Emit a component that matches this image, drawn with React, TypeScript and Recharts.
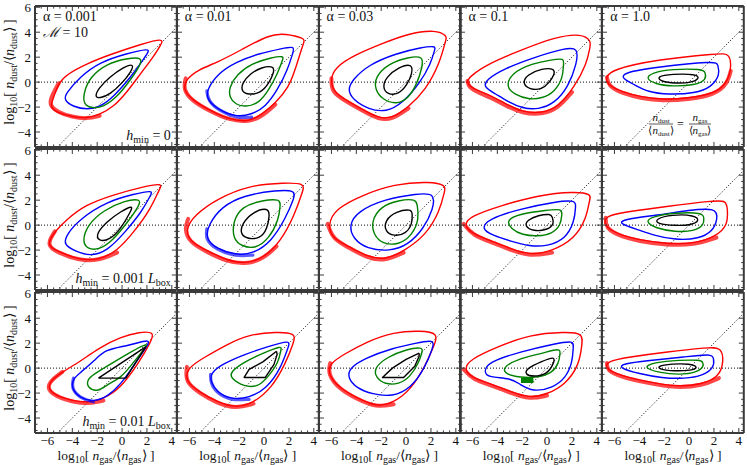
import React from 'react';
import { ScatterChart, Scatter, XAxis, YAxis, ReferenceLine } from 'recharts';

type Pt = [number, number];

// ---------- axis / tick data ----------
const xDomain: [number, number] = [-7, 4.4];
const yDomain: [number, number] = [-5.2, 6.1];
const xTicks = [-7, -6.5, -6, -5.5, -5, -4.5, -4, -3.5, -3, -2.5, -2, -1.5, -1, -0.5, 0, 0.5, 1, 1.5, 2, 2.5, 3, 3.5, 4];
const yTicks = [-5, -4.5, -4, -3.5, -3, -2.5, -2, -1.5, -1, -0.5, 0, 0.5, 1, 1.5, 2, 2.5, 3, 3.5, 4, 4.5, 5, 5.5, 6];
const alphaLabels = ['0.001', '0.01', '0.03', '0.1', '1.0'];

// ---------- row 1 (h_min = 0) ----------
const r1c1_red: Pt[] = [[3.3,3.5],[1.7,3.1],[-1.0,2.2],[-2.8,1.5],[-4.5,0.6],[-5.1,-0.1],[-5.5,-1.2],[-5.8,-2.0],[-5.3,-2.4],[-4.0,-2.8],[-2.8,-2.9],[-1.8,-2.6],[-0.7,-2.0],[0.4,-0.8],[1.5,0.7],[2.5,2.0],[3.2,3.1]];
const r1c1_blue: Pt[] = [[2.2,2.7],[0.4,2.3],[-1.8,1.6],[-3.4,0.4],[-4.5,-0.9],[-4.7,-1.4],[-3.9,-2.0],[-2.8,-2.2],[-1.8,-2.0],[-0.7,-1.2],[0.7,0.4],[1.7,1.8],[2.1,2.4]];
const r1c1_green: Pt[] = [[1.6,2.0],[0.4,1.9],[-1.2,1.5],[-2.6,0.4],[-3.1,-0.9],[-3.1,-1.8],[-2.4,-2.1],[-1.5,-2.0],[-0.4,-1.2],[0.7,0.2],[1.5,1.4]];
const r1c1_black: Pt[] = [[1.0,1.5],[0.1,1.2],[-1.0,0.4],[-1.9,-0.5],[-2.2,-1.2],[-1.8,-1.3],[-1.0,-1.0],[0.0,-0.1],[0.7,0.8]];
const r1c1_band: Pt[] = [[-5.1,-0.1],[-5.6,-1.0],[-5.9,-1.8],[-5.2,-2.4],[-4.0,-2.8],[-2.8,-2.95],[-1.8,-2.7]];

const r1c2_red: Pt[] = [[3.3,3.5],[1.7,3.9],[0.4,3.8],[-1.8,2.6],[-3.7,1.6],[-5.3,1.0],[-6.3,0.2],[-6.5,-0.6],[-5.8,-1.4],[-4.5,-2.2],[-2.8,-3.0],[-1.2,-3.2],[-0.2,-2.6],[0.9,-1.7],[2.0,-0.4],[2.5,1.0],[2.9,2.3],[3.2,3.2]];
const r1c2_blue: Pt[] = [[2.5,2.9],[1.5,2.7],[-0.4,2.3],[-2.3,1.6],[-3.7,0.7],[-4.6,-0.6],[-4.6,-1.4],[-3.7,-2.2],[-2.3,-2.8],[-1.0,-2.6],[0.1,-2.0],[1.1,-0.6],[1.9,1.0],[2.3,2.3]];
const r1c2_green: Pt[] = [[1.6,2.1],[0.7,2.0],[-1.0,1.5],[-2.2,0.6],[-2.8,-0.4],[-2.8,-1.2],[-2.3,-1.8],[-1.5,-2.0],[-0.4,-1.7],[0.4,-0.6],[1.1,0.7],[1.5,1.8]];
const r1c2_black: Pt[] = [[0.8,1.3],[-0.2,1.2],[-1.1,0.7],[-1.8,-0.1],[-1.8,-0.8],[-1.2,-1.0],[-0.3,-0.9],[0.4,-0.1],[0.8,0.8]];
const r1c2_band: Pt[] = [[-6.3,0.3],[-6.5,-0.6],[-5.8,-1.5],[-4.4,-2.3],[-2.8,-3.05],[-1.2,-3.2],[-0.1,-2.7],[0.9,-1.8]];
const r1c2_bband: Pt[] = [[-4.6,-0.7],[-4.5,-1.5],[-3.6,-2.3],[-2.2,-2.9],[-1.0,-2.8]];

const r1c3_red: Pt[] = [[3.3,3.7],[2.4,4.2],[0.2,3.9],[-1.9,3.1],[-4.1,2.2],[-5.7,1.2],[-6.1,0.2],[-5.8,-0.8],[-4.9,-1.4],[-3.5,-2.2],[-2.2,-2.9],[-1.1,-2.9],[0.2,-2.0],[1.6,-0.6],[2.7,1.5],[3.2,3.4]];
const r1c3_blue: Pt[] = [[2.4,2.9],[1.3,2.8],[-0.8,2.3],[-3.0,1.4],[-4.3,0.2],[-4.7,-0.6],[-4.3,-1.4],[-3.0,-2.2],[-1.6,-2.4],[-0.3,-1.7],[1.1,-0.1],[2.0,1.5],[2.3,2.6]];
const r1c3_green: Pt[] = [[1.4,2.1],[0.2,2.0],[-1.4,1.5],[-2.5,0.4],[-2.5,-0.6],[-1.9,-1.4],[-0.8,-1.8],[0.2,-1.3],[0.9,-0.1],[1.3,1.2]];
const r1c3_black: Pt[] = [[0.5,1.5],[-0.6,1.2],[-1.6,0.4],[-1.9,-0.4],[-1.5,-1.0],[-0.6,-1.0],[0.1,-0.2],[0.5,0.7]];
const r1c3_band: Pt[] = [[-6.0,0.3],[-6.0,-0.8],[-4.9,-1.5],[-3.5,-2.3],[-2.2,-3.0],[-1.1,-3.0],[0.2,-2.1]];

const r1c4_red: Pt[] = [[3.55,3.3],[2.8,3.9],[0.6,3.6],[-2.0,2.6],[-4.7,1.5],[-6.3,0.4],[-6.5,-0.1],[-5.8,-0.6],[-4.7,-1.0],[-3.4,-1.7],[-2.0,-2.4],[-0.4,-2.5],[0.9,-2.0],[2.2,-0.4],[3.2,1.5],[3.45,2.8]];
const r1c4_blue: Pt[] = [[2.5,2.8],[1.4,2.7],[-1.0,2.0],[-3.4,1.1],[-4.9,0.2],[-5.1,-0.4],[-4.2,-0.9],[-3.1,-1.6],[-2.0,-2.1],[-0.7,-2.2],[0.6,-1.7],[1.7,-0.4],[2.4,1.5]];
const r1c4_green: Pt[] = [[1.4,1.9],[0.4,1.8],[-1.2,1.5],[-2.9,0.7],[-3.3,-0.4],[-2.6,-1.0],[-1.5,-1.4],[-0.4,-1.3],[0.6,-0.8],[1.3,0.4],[1.3,1.5]];
const r1c4_black: Pt[] = [[0.6,1.1],[-0.4,1.1],[-1.6,0.6],[-2.0,-0.1],[-1.4,-0.6],[-0.4,-0.6],[0.2,0.0],[0.6,0.6]];
const r1c4_band: Pt[] = [[-6.4,0.1],[-6.3,-0.4],[-5.6,-0.8],[-4.6,-1.2],[-3.3,-1.9],[-2.0,-2.5],[-0.4,-2.6],[0.9,-2.1],[2.0,-0.8]];

const r1c5_red: Pt[] = [[3.3,2.3],[2.4,2.3],[-2.7,1.8],[-6.2,1.0],[-6.7,0.4],[-6.6,-0.2],[-5.4,-0.8],[-3.8,-1.2],[-2.2,-1.4],[-0.1,-1.3],[2.1,-0.9],[3.0,-0.1],[3.4,1.0]];
const r1c5_blue: Pt[] = [[2.2,1.7],[-2.7,1.2],[-5.3,0.75],[-5.4,0.3],[-4.4,-0.2],[-3.3,-0.8],[-1.7,-1.0],[0.5,-0.9],[1.8,-0.4],[2.5,0.6],[2.3,1.4]];
const r1c5_green: Pt[] = [[1.1,1.05],[-1.4,1.05],[-3.0,0.75],[-3.5,0.3],[-2.7,-0.15],[-1.4,-0.35],[0.5,-0.25],[1.4,0.2],[1.3,0.8]];
const r1c5_black: Pt[] = [[0.6,0.65],[-1.4,0.65],[-2.6,0.45],[-2.3,0.05],[-1.1,-0.1],[0.2,-0.05],[0.85,0.3]];
const r1c5_band: Pt[] = [[-6.6,0.4],[-6.5,-0.3],[-5.4,-0.9],[-3.8,-1.3],[-2.2,-1.5],[-0.1,-1.4],[2.1,-1.0],[3.1,-0.1],[3.35,0.9]];

// ---------- row 2 (h_min = 0.001 L_box) ----------
const r2c1_red: Pt[] = [[3.3,3.35],[1.75,3.1],[-0.8,2.4],[-3.0,1.6],[-4.5,0.4],[-5.4,-0.5],[-6.1,-1.6],[-5.2,-2.1],[-3.4,-2.8],[-1.9,-2.8],[-0.4,-2.1],[1.0,-0.5],[2.3,1.3],[3.0,2.9]];
const r2c1_blue: Pt[] = [[2.5,2.8],[1.0,2.5],[-1.2,1.9],[-3.4,0.5],[-4.5,-0.8],[-4.7,-1.6],[-3.7,-2.1],[-2.6,-2.5],[-1.2,-2.1],[0.3,-0.5],[1.6,1.1],[2.3,2.4]];
const r2c1_green: Pt[] = [[1.5,2.1],[0.3,2.0],[-1.5,1.2],[-2.8,0.0],[-3.2,-1.3],[-2.8,-1.9],[-1.9,-2.0],[-0.8,-1.3],[0.5,0.3],[1.4,1.6]];
const r2c1_black: Pt[] = [[0.9,1.6],[-0.1,1.1],[-1.2,0.3],[-2.1,-0.7],[-1.9,-1.3],[-1.0,-1.2],[-0.1,-0.3],[0.7,1.1]];
const r2c1_band: Pt[] = [[-5.4,-0.5],[-6.1,-1.6],[-5.2,-2.2],[-3.4,-2.85],[-1.9,-2.85],[-0.4,-2.2]];

const r2c2_red: Pt[] = [[3.3,3.35],[1.7,3.4],[-1.2,3.2],[-3.8,2.1],[-5.6,0.8],[-6.3,-0.3],[-6.0,-1.3],[-4.5,-2.1],[-3.0,-2.8],[-1.6,-3.1],[-0.1,-2.7],[1.35,-1.3],[2.45,0.8],[3.1,2.7]];
const r2c2_blue: Pt[] = [[2.55,2.8],[1.0,2.8],[-1.6,2.4],[-3.4,1.5],[-4.5,0.0],[-4.7,-1.1],[-3.8,-1.9],[-2.3,-2.4],[-0.85,-2.3],[0.6,-1.3],[1.7,0.5],[2.4,2.1]];
const r2c2_green: Pt[] = [[1.3,2.1],[-0.1,2.0],[-1.8,1.5],[-2.5,0.3],[-2.5,-1.1],[-1.8,-1.7],[-0.7,-1.9],[0.4,-1.1],[1.2,0.5],[1.3,1.6]];
const r2c2_black: Pt[] = [[0.35,1.4],[-0.85,1.1],[-1.8,0.1],[-1.9,-0.7],[-1.4,-1.1],[-0.3,-1.1],[0.25,-0.3],[0.45,0.8]];
const r2c2_band: Pt[] = [[-6.1,0.5],[-6.4,-0.3],[-6.0,-1.4],[-4.5,-2.2],[-3.0,-2.9],[-1.6,-3.15],[-0.1,-2.75],[1.0,-1.7]];
const r2c2_bband: Pt[] = [[-4.6,-0.3],[-4.7,-1.2],[-3.8,-2.0],[-2.3,-2.5],[-0.9,-2.4]];

const r2c3_red: Pt[] = [[3.2,3.2],[2.0,3.5],[-1.0,3.3],[-3.5,2.4],[-5.7,1.3],[-6.3,0.0],[-5.9,-1.1],[-4.6,-1.7],[-3.2,-2.5],[-1.7,-2.8],[-0.2,-2.1],[1.6,-0.8],[2.7,1.1],[3.1,2.7]];
const r2c3_blue: Pt[] = [[2.3,2.6],[0.9,2.5],[-1.7,2.1],[-3.9,1.1],[-4.6,0.0],[-4.25,-1.1],[-3.15,-1.9],[-1.3,-2.1],[0.15,-1.6],[1.4,-0.3],[2.2,1.3]];
const r2c3_green: Pt[] = [[0.8,2.1],[-0.6,2.0],[-2.05,1.5],[-2.8,0.3],[-2.6,-0.8],[-1.9,-1.5],[-0.6,-1.6],[0.5,-0.8],[1.05,0.5],[0.9,1.6]];
const r2c3_black: Pt[] = [[0.45,1.3],[-0.8,1.1],[-1.7,0.4],[-1.7,-0.5],[-1.0,-0.9],[0.0,-0.7],[0.5,0.1],[0.5,0.9]];
const r2c3_band: Pt[] = [[-6.3,0.1],[-5.9,-1.1],[-4.6,-1.8],[-3.2,-2.6],[-1.7,-2.9],[-0.2,-2.2]];

const r2c4_red: Pt[] = [[3.6,2.5],[2.2,2.7],[-0.7,2.4],[-3.6,1.6],[-6.2,0.7],[-6.7,0.0],[-6.0,-0.7],[-4.4,-1.3],[-2.9,-1.9],[-1.4,-2.4],[0.4,-2.1],[2.2,-1.1],[3.15,0.5],[3.4,2.0]];
const r2c4_blue: Pt[] = [[2.3,2.0],[0.8,1.9],[-2.2,1.3],[-4.7,0.5],[-5.3,-0.3],[-4.4,-0.8],[-2.9,-1.3],[-1.4,-1.7],[0.0,-1.7],[1.5,-1.1],[2.2,0.3],[2.3,1.5]];
const r2c4_green: Pt[] = [[1.2,1.3],[0.0,1.2],[-2.2,0.9],[-3.3,0.4],[-2.9,-0.3],[-2.0,-0.8],[-0.7,-0.9],[0.4,-0.7],[1.1,0.0],[1.2,0.9]];
const r2c4_black: Pt[] = [[0.3,0.9],[-0.7,0.8],[-1.6,0.4],[-1.8,-0.1],[-1.1,-0.5],[0.0,-0.4],[0.6,0.1],[0.4,0.7]];
const r2c4_band: Pt[] = [[-6.7,0.1],[-6.0,-0.8],[-4.4,-1.4],[-2.9,-2.0],[-1.4,-2.5],[0.4,-2.2]];

const r2c5_red: Pt[] = [[3.0,2.0],[1.9,1.95],[-1.8,1.5],[-5.5,1.0],[-6.8,0.7],[-6.8,-0.1],[-5.8,-0.7],[-4.0,-1.2],[-1.8,-1.5],[0.4,-1.5],[2.2,-0.9],[3.1,0.0],[3.1,1.2]];
const r2c5_blue: Pt[] = [[2.2,1.4],[0.0,1.2],[-2.5,0.8],[-5.4,0.45],[-5.6,0.1],[-4.0,-0.4],[-2.9,-0.8],[-1.1,-1.2],[0.8,-1.1],[1.9,-0.5],[2.3,0.5]];
const r2c5_green: Pt[] = [[1.1,1.0],[-1.1,1.0],[-2.9,0.7],[-3.55,0.3],[-2.7,-0.25],[-1.1,-0.55],[0.4,-0.5],[1.2,0.0],[1.2,0.6]];
const r2c5_black: Pt[] = [[0.5,0.8],[-1.4,0.85],[-2.7,0.5],[-2.6,0.1],[-1.1,-0.05],[0.2,0.0],[0.85,0.35]];
const r2c5_band: Pt[] = [[-6.7,0.6],[-6.7,-0.2],[-5.8,-0.8],[-4.0,-1.3],[-1.8,-1.6],[0.4,-1.6],[2.2,-1.0]];

// ---------- row 3 (h_min = 0.01 L_box) ----------
const r3c1_red: Pt[] = [[2.65,2.9],[1.4,2.9],[-0.1,2.5],[-1.9,1.6],[-3.4,0.5],[-4.8,-0.3],[-5.9,-1.1],[-5.9,-1.9],[-4.5,-2.5],[-3.0,-2.8],[-1.5,-2.5],[-0.1,-1.6],[1.4,0.5],[2.3,2.1]];
const r3c1_blue: Pt[] = [[2.4,2.4],[0.6,1.8],[-1.4,1.5],[-2.2,0.6],[-3.4,-0.4],[-3.9,-0.8],[-4.1,-1.6],[-3.4,-2.4],[-2.3,-2.7],[-1.2,-2.3],[-0.1,-1.3],[1.0,0.3],[1.9,1.6]];
const r3c1_green: Pt[] = [[2.2,2.1],[0.7,1.3],[-0.8,0.4],[-2.3,-0.5],[-2.8,-0.9],[-2.8,-1.6],[-1.9,-1.9],[-1.2,-1.3],[-0.1,-0.8],[0.8,0.3],[1.75,1.5]];
const r3c1_black: Pt[] = [[-1.9,-0.8],[0.3,-0.8],[1.9,1.7]];
const r3c1_band: Pt[] = [[-4.8,-0.3],[-5.9,-1.1],[-6.0,-1.9],[-4.5,-2.6],[-3.0,-2.9],[-1.5,-2.6]];
const r3c1_bband: Pt[] = [[-3.9,-0.8],[-4.1,-1.6],[-3.4,-2.4],[-2.3,-2.7]];

const r3c2_red: Pt[] = [[2.55,2.8],[1.0,2.9],[-1.2,2.7],[-3.0,1.9],[-4.9,0.8],[-6.2,0.0],[-6.3,-1.1],[-5.2,-1.9],[-3.8,-2.7],[-2.3,-3.2],[-0.85,-2.8],[0.6,-1.6],[1.7,0.3],[2.4,2.1]];
const r3c2_blue: Pt[] = [[2.2,2.3],[0.25,1.7],[-1.6,1.1],[-3.4,0.3],[-4.3,-0.4],[-4.3,-1.1],[-3.8,-1.9],[-2.7,-2.5],[-1.2,-2.4],[0.25,-1.6],[1.35,0.0],[1.9,1.6]];
const r3c2_green: Pt[] = [[1.45,1.8],[-0.1,1.2],[-1.6,0.5],[-2.7,-0.3],[-2.7,-0.8],[-1.6,-1.5],[-0.5,-1.5],[0.25,-0.8],[1.2,0.5],[1.35,1.5]];
const r3c2_black: Pt[] = [[1.0,1.35],[-0.1,0.5],[-1.2,-0.1],[-1.6,-0.75],[0.1,-0.75],[0.8,0.3],[1.05,1.1]];
const r3c2_band: Pt[] = [[-6.2,0.1],[-6.35,-1.1],[-5.2,-2.0],[-3.8,-2.8],[-2.3,-3.25],[-0.85,-2.85]];
const r3c2_bband: Pt[] = [[-4.3,-0.5],[-4.3,-1.2],[-3.8,-2.0],[-2.7,-2.6],[-1.2,-2.5]];

const r3c3_red: Pt[] = [[2.6,2.8],[1.2,3.0],[-1.0,2.9],[-3.2,2.1],[-5.0,1.1],[-6.1,0.4],[-6.3,-0.5],[-5.35,-1.6],[-3.9,-2.4],[-2.4,-3.1],[-1.0,-2.8],[0.5,-1.6],[1.6,0.3],[2.3,1.9]];
const r3c3_blue: Pt[] = [[2.3,2.3],[0.8,2.0],[-1.1,1.6],[-3.3,0.8],[-4.55,0.0],[-4.7,-0.75],[-4.0,-1.6],[-2.7,-2.1],[-1.1,-2.3],[0.4,-1.6],[1.5,0.0],[2.15,1.6]];
const r3c3_green: Pt[] = [[1.35,1.7],[0.0,1.5],[-1.5,0.9],[-2.6,0.0],[-2.4,-0.8],[-1.7,-1.3],[-0.6,-1.3],[0.35,-0.7],[1.05,0.5],[1.3,1.3]];
const r3c3_black: Pt[] = [[1.05,1.2],[0.0,0.7],[-1.1,0.0],[-1.9,-0.75],[-0.2,-0.75],[0.7,0.15],[1.05,0.95]];
const r3c3_band: Pt[] = [[-6.1,0.4],[-6.3,-0.5],[-5.35,-1.7],[-3.9,-2.5],[-2.4,-3.15],[-1.0,-2.9]];

const r3c4_red: Pt[] = [[2.9,2.8],[1.5,2.9],[-1.4,2.7],[-4.0,1.7],[-6.2,0.7],[-6.7,-0.1],[-6.0,-0.8],[-4.4,-1.3],[-2.9,-1.9],[-1.4,-2.4],[0.0,-2.1],[1.5,-1.3],[2.6,0.3],[2.8,1.9]];
const r3c4_blue: Pt[] = [[2.15,2.2],[0.8,2.0],[-2.2,1.3],[-4.7,0.5],[-5.1,-0.3],[-4.7,-0.75],[-2.9,-0.8],[-2.2,-1.3],[-1.1,-1.9],[0.4,-1.6],[1.5,-0.8],[2.05,0.5],[2.1,1.7]];
const r3c4_green: Pt[] = [[1.05,1.6],[-0.3,1.2],[-2.5,0.7],[-3.6,0.0],[-3.3,-0.5],[-2.2,-0.75],[-0.7,-0.75],[0.4,-0.4],[0.95,0.4],[1.05,1.2]];
const r3c4_black: Pt[] = [[0.7,1.0],[-0.5,0.5],[-1.6,0.0],[-1.8,-0.5],[-1.1,-0.7],[0.0,-0.5],[0.5,0.3]];
const r3c4_band: Pt[] = [[-6.7,-0.1],[-6.0,-0.9],[-4.4,-1.4],[-2.9,-2.0],[-1.4,-2.5],[0.0,-2.2]];
const r3c4_gblob: Pt[] = [[-2.1,-1.0],[-1.1,-1.0]];

const r3c5_red: Pt[] = [[2.6,1.7],[1.5,1.65],[-1.8,1.3],[-4.7,0.9],[-6.7,0.55],[-6.7,-0.1],[-5.5,-0.6],[-3.3,-1.1],[-1.1,-1.5],[1.1,-1.3],[2.4,-0.7],[2.8,0.5]];
const r3c5_blue: Pt[] = [[1.8,1.15],[-0.3,0.9],[-3.3,0.6],[-5.4,0.35],[-5.6,0.0],[-4.0,-0.45],[-2.2,-0.8],[-0.3,-0.85],[1.1,-0.6],[2.0,0.0],[2.0,0.8]];
const r3c5_green: Pt[] = [[0.9,0.65],[-0.7,0.65],[-2.9,0.45],[-3.7,0.05],[-2.5,-0.35],[-0.7,-0.55],[0.6,-0.35],[1.2,0.1],[1.1,0.5]];
const r3c5_black: Pt[] = [[0.1,0.35],[-1.4,0.35],[-2.6,0.15],[-2.3,-0.15],[-0.7,-0.25],[0.4,-0.15],[0.7,0.1]];
const r3c5_band: Pt[] = [[-6.6,0.4],[-6.6,-0.2],[-5.5,-0.7],[-3.3,-1.2],[-1.1,-1.6],[1.1,-1.4],[2.4,-0.8]];

// ---------- layout / style ----------
const COL_L = [35, 176.8, 318.6, 460.4, 602.2];
const ROW_T = [6, 149, 292];
const PW = 141.8;
const PH = 141;
const FRAME = '#3a3a3a';
const SERIF = '"Liberation Serif", "Times New Roman", Times, serif';
const RED = '#ff0000';
const BLUE = '#0000ff';
const GREEN = '#008000';

type PanelData = {
  red: Pt[]; blue: Pt[]; green: Pt[]; black: Pt[];
  band?: Pt[]; bband?: Pt[]; gblob?: Pt[]; sharpBlack?: boolean;
};

const panels: PanelData[][] = [
  [
    { red: r1c1_red, blue: r1c1_blue, green: r1c1_green, black: r1c1_black, band: r1c1_band },
    { red: r1c2_red, blue: r1c2_blue, green: r1c2_green, black: r1c2_black, band: r1c2_band, bband: r1c2_bband },
    { red: r1c3_red, blue: r1c3_blue, green: r1c3_green, black: r1c3_black, band: r1c3_band },
    { red: r1c4_red, blue: r1c4_blue, green: r1c4_green, black: r1c4_black, band: r1c4_band },
    { red: r1c5_red, blue: r1c5_blue, green: r1c5_green, black: r1c5_black, band: r1c5_band },
  ],
  [
    { red: r2c1_red, blue: r2c1_blue, green: r2c1_green, black: r2c1_black, band: r2c1_band },
    { red: r2c2_red, blue: r2c2_blue, green: r2c2_green, black: r2c2_black, band: r2c2_band, bband: r2c2_bband },
    { red: r2c3_red, blue: r2c3_blue, green: r2c3_green, black: r2c3_black, band: r2c3_band },
    { red: r2c4_red, blue: r2c4_blue, green: r2c4_green, black: r2c4_black, band: r2c4_band },
    { red: r2c5_red, blue: r2c5_blue, green: r2c5_green, black: r2c5_black, band: r2c5_band },
  ],
  [
    { red: r3c1_red, blue: r3c1_blue, green: r3c1_green, black: r3c1_black, band: r3c1_band, bband: r3c1_bband, sharpBlack: true },
    { red: r3c2_red, blue: r3c2_blue, green: r3c2_green, black: r3c2_black, band: r3c2_band, bband: r3c2_bband, sharpBlack: true },
    { red: r3c3_red, blue: r3c3_blue, green: r3c3_green, black: r3c3_black, band: r3c3_band, sharpBlack: true },
    { red: r3c4_red, blue: r3c4_blue, green: r3c4_green, black: r3c4_black, band: r3c4_band, gblob: r3c4_gblob },
    { red: r3c5_red, blue: r3c5_blue, green: r3c5_green, black: r3c5_black, band: r3c5_band },
  ],
];

const toObjs = (a: Pt[], close: boolean) => {
  const pts = a.map(([x, y]) => ({ x, y }));
  if (close && a.length > 2) pts.push({ x: a[0][0], y: a[0][1] });
  return pts;
};

const isMajor = (v: number) => Math.abs(v % 2) < 1e-9;
const fmt = (v: number) => (v < 0 ? '\u2212' + Math.abs(v) : String(v));
const NoShape = () => <g />;

const makeTick = (side: 'b' | 't' | 'l' | 'r', label: boolean) => (p: any) => {
  const { x, y, payload } = p;
  const v = payload.value as number;
  const len = isMajor(v) ? 5 : 2.6;
  let l: any;
  if (side === 'b') l = { x1: x, x2: x, y1: y, y2: y - len };
  else if (side === 't') l = { x1: x, x2: x, y1: y, y2: y + len };
  else if (side === 'l') l = { x1: x, x2: x + len, y1: y, y2: y };
  else l = { x1: x, x2: x - len, y1: y, y2: y };
  return (
    <g>
      <line {...l} stroke={FRAME} strokeWidth={1} />
      {label && isMajor(v) && side === 'b' && (
        <text x={x} y={y + 12} textAnchor="middle" fontSize={13} fontFamily={SERIF} fill="#111">{fmt(v)}</text>
      )}
      {label && isMajor(v) && side === 'l' && (
        <text x={x - 4} y={y + 4.5} textAnchor="end" fontSize={13} fontFamily={SERIF} fill="#111">{fmt(v)}</text>
      )}
    </g>
  );
};

function Panel({ r, c }: { r: number; c: number }) {
  const d = panels[r][c];
  const left = COL_L[c];
  const top = ROW_T[r];
  const mL = 39, mT = 9, mR = 9, mB = 29;
  const cw = PW + mL + mR + 2;
  const ch = PH + mT + mB + 2;
  const lineStyle = (stroke: string, w: number, extra: any = {}) => ({ stroke, strokeWidth: w, fill: 'none', strokeLinejoin: 'round', ...extra });
  return (
    <div style={{ position: 'absolute', left: left - 40, top: top - 10, width: cw, height: ch }}>
      <ScatterChart width={cw} height={ch} margin={{ top: mT, left: mL, right: mR, bottom: mB }}>
        <XAxis xAxisId="b" dataKey="x" type="number" domain={xDomain} ticks={xTicks} interval={0} allowDataOverflow
          height={1} tickSize={0} tickMargin={0} tickLine={false} axisLine={{ stroke: FRAME, strokeWidth: 2 }}
          tick={makeTick('b', r === 2)} />
        <XAxis xAxisId="t" dataKey="x" orientation="top" type="number" domain={xDomain} ticks={xTicks} interval={0} allowDataOverflow
          height={1} tickSize={0} tickMargin={0} tickLine={false} axisLine={{ stroke: FRAME, strokeWidth: 2 }}
          tick={makeTick('t', false)} />
        <YAxis yAxisId="l" dataKey="y" type="number" domain={yDomain} ticks={yTicks} interval={0} allowDataOverflow
          width={1} tickSize={0} tickMargin={0} tickLine={false} axisLine={{ stroke: FRAME, strokeWidth: 2 }}
          tick={makeTick('l', c === 0)} />
        <YAxis yAxisId="r" dataKey="y" orientation="right" type="number" domain={yDomain} ticks={yTicks} interval={0} allowDataOverflow
          width={1} tickSize={0} tickMargin={0} tickLine={false} axisLine={{ stroke: FRAME, strokeWidth: 2 }}
          tick={makeTick('r', false)} />
        <ReferenceLine xAxisId="b" yAxisId="l" y={0} stroke="#000" strokeWidth={1} strokeDasharray="1 2" />
        <ReferenceLine xAxisId="b" yAxisId="l" segment={[{ x: -5.2, y: -5.2 }, { x: 4.4, y: 4.4 }]} stroke="#000" strokeWidth={1} strokeDasharray="1 2" />
        <Scatter xAxisId="t" yAxisId="r" data={[]} fill="none" shape={NoShape} isAnimationActive={false} />
        {d.band && (
          <Scatter xAxisId="b" yAxisId="l" data={toObjs(d.band, false)} fill={RED} shape={NoShape} isAnimationActive={false}
            lineJointType="basis" line={lineStyle(RED, 4, { strokeOpacity: 0.72, strokeLinecap: 'round' })} />
        )}
        <Scatter xAxisId="b" yAxisId="l" data={toObjs(d.red, false)} fill={RED} shape={NoShape} isAnimationActive={false}
          lineJointType="basisClosed" line={lineStyle(RED, 1.4)} />
        {d.bband && (
          <Scatter xAxisId="b" yAxisId="l" data={toObjs(d.bband, false)} fill={BLUE} shape={NoShape} isAnimationActive={false}
            lineJointType="basis" line={lineStyle(BLUE, 3.2, { strokeOpacity: 0.65, strokeLinecap: 'round' })} />
        )}
        <Scatter xAxisId="b" yAxisId="l" data={toObjs(d.blue, false)} fill={BLUE} shape={NoShape} isAnimationActive={false}
          lineJointType="basisClosed" line={lineStyle(BLUE, 1.4)} />
        <Scatter xAxisId="b" yAxisId="l" data={toObjs(d.green, false)} fill={GREEN} shape={NoShape} isAnimationActive={false}
          lineJointType="basisClosed" line={lineStyle(GREEN, 1.4)} />
        {d.gblob && (
          <Scatter xAxisId="b" yAxisId="l" data={toObjs(d.gblob, false)} fill={GREEN} shape={NoShape} isAnimationActive={false}
            line={lineStyle(GREEN, 5)} />
        )}
        <Scatter xAxisId="b" yAxisId="l" data={toObjs(d.black, !!d.sharpBlack)} fill="#000" shape={NoShape} isAnimationActive={false}
          lineJointType={d.sharpBlack ? 'linear' : 'basisClosed'} line={lineStyle('#000', 1.4)} />
      </ScatterChart>
    </div>
  );
}

function Annotations() {
  const yLabel = (cy: number, key: string) => (
    <text key={key} transform={`translate(14,${cy}) rotate(-90)`} textAnchor="middle" fontSize={14} fontFamily={SERIF} fill="#111">
      log<tspan fontSize={10} dy={3}>10</tspan><tspan dy={-3}>[ </tspan>
      <tspan fontStyle="italic">n</tspan><tspan fontSize={10} dy={3}>dust</tspan><tspan dy={-3}>/⟨</tspan>
      <tspan fontStyle="italic">n</tspan><tspan fontSize={10} dy={3}>dust</tspan><tspan dy={-3}>⟩ ]</tspan>
    </text>
  );
  const xLabel = (cx: number, key: string) => (
    <text key={key} x={cx} y={460} textAnchor="middle" fontSize={13.5} fontFamily={SERIF} fill="#111">
      log<tspan fontSize={10} dy={3}>10</tspan><tspan dy={-3}>[ </tspan>
      <tspan fontStyle="italic">n</tspan><tspan fontSize={10} dy={3}>gas</tspan><tspan dy={-3}>/⟨</tspan>
      <tspan fontStyle="italic">n</tspan><tspan fontSize={10} dy={3}>gas</tspan><tspan dy={-3}>⟩ ]</tspan>
    </text>
  );
  const hLabel = (r: number, rest: React.ReactNode) => (
    <text x={COL_L[0] + PW - 6} y={ROW_T[r] + PH - 7} textAnchor="end" fontSize={14} fontFamily={SERIF} fill="#111">
      <tspan fontStyle="italic">h</tspan><tspan fontSize={10} dy={3}>min</tspan><tspan dy={-3}>{' = '}</tspan>{rest}
    </text>
  );
  const fx1 = 661, fx2 = 700, fy = 124;
  return (
    <svg width={747} height={465} style={{ position: 'absolute', left: 0, top: 0, pointerEvents: 'none' }}>
      {ROW_T.map((t, i) => yLabel(t + 66, 'y' + i))}
      {COL_L.map((l, i) => xLabel(l + PW / 2, 'x' + i))}
      {COL_L.map((l, i) => (
        <text key={'a' + i} x={l + 8} y={ROW_T[0] + 15} fontSize={14} fontFamily={SERIF} fill="#111">α = {alphaLabels[i]}</text>
      ))}
      <text x={COL_L[0] + 8} y={ROW_T[0] + 31} fontSize={14} fontFamily={SERIF} fill="#111">
        <tspan fontStyle="italic">ℳ</tspan> = 10
      </text>
      {hLabel(0, <tspan>0</tspan>)}
      {hLabel(1, <><tspan>0.001 </tspan><tspan fontStyle="italic">L</tspan><tspan fontSize={10} dy={3}>box</tspan></>)}
      {hLabel(2, <><tspan>0.01 </tspan><tspan fontStyle="italic">L</tspan><tspan fontSize={10} dy={3}>box</tspan></>)}
      <g fontFamily={SERIF} fill="#111">
        <text x={fx1} y={fy - 3} textAnchor="middle" fontSize={11}><tspan fontStyle="italic">n</tspan><tspan fontSize={7} dy={2}>dust</tspan></text>
        <line x1={fx1 - 12} x2={fx1 + 12} y1={fy} y2={fy} stroke="#111" strokeWidth={0.7} />
        <text x={fx1} y={fy + 10} textAnchor="middle" fontSize={11}>⟨<tspan fontStyle="italic">n</tspan><tspan fontSize={7} dy={2}>dust</tspan><tspan dy={-2}>⟩</tspan></text>
        <text x={(fx1 + fx2) / 2} y={fy + 4} textAnchor="middle" fontSize={12}>=</text>
        <text x={fx2} y={fy - 3} textAnchor="middle" fontSize={11}><tspan fontStyle="italic">n</tspan><tspan fontSize={7} dy={2}>gas</tspan></text>
        <line x1={fx2 - 11} x2={fx2 + 11} y1={fy} y2={fy} stroke="#111" strokeWidth={0.7} />
        <text x={fx2} y={fy + 10} textAnchor="middle" fontSize={11}>⟨<tspan fontStyle="italic">n</tspan><tspan fontSize={7} dy={2}>gas</tspan><tspan dy={-2}>⟩</tspan></text>
      </g>
    </svg>
  );
}

export default function App() {
  return (
    <div style={{ position: 'absolute', left: 0, top: 0, width: 747, height: 465, background: '#fff', overflow: 'hidden', fontFamily: SERIF }}>
      {[0, 1, 2].map((r) => [0, 1, 2, 3, 4].map((c) => <Panel key={`${r}-${c}`} r={r} c={c} />))}
      <Annotations />
    </div>
  );
}
